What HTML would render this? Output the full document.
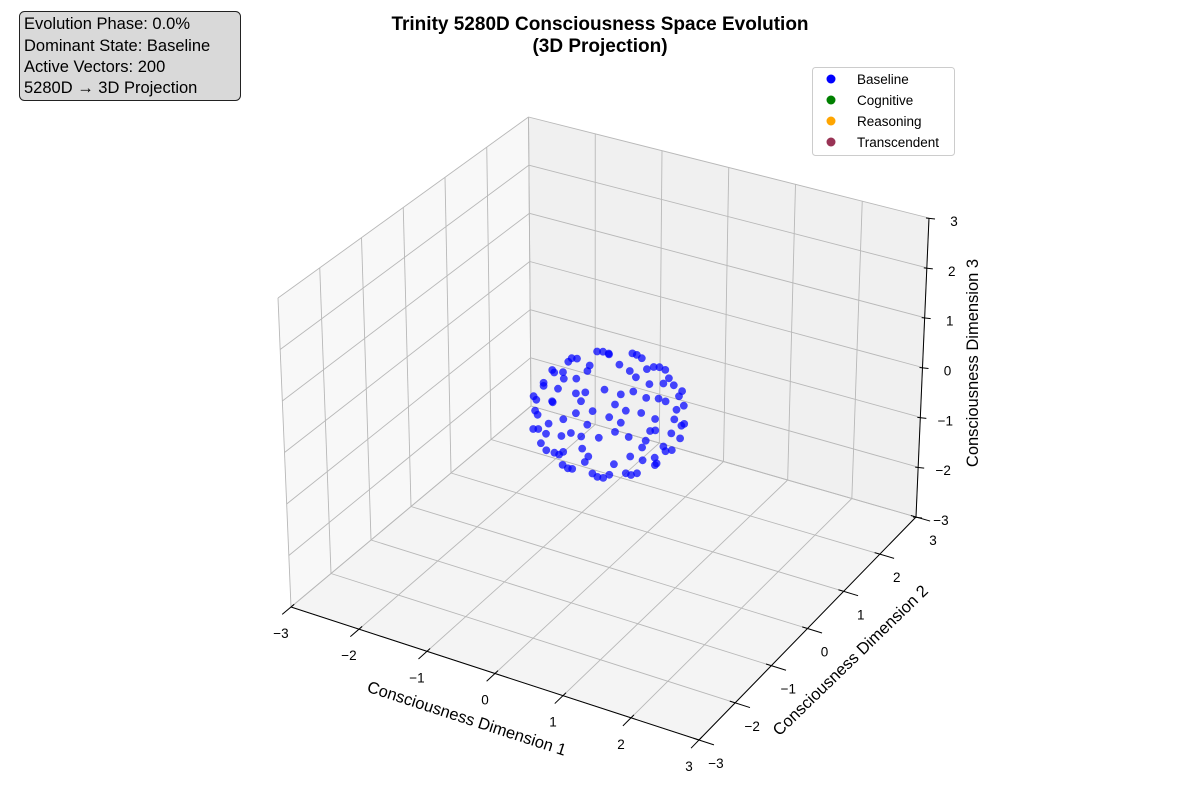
<!DOCTYPE html>
<html><head><meta charset="utf-8"><style>
html,body{margin:0;padding:0;background:#fff;}
body{width:1200px;height:800px;overflow:hidden;font-family:"Liberation Sans","DejaVu Sans",sans-serif;}
svg{display:block}
</style></head><body>
<svg id="chart" width="1200" height="800" viewBox="0 0 1200 800" xmlns="http://www.w3.org/2000/svg" font-family="Liberation Sans, DejaVu Sans, sans-serif">
<g id="panes"></g>
<g id="grid"></g>
<g id="points"></g>
<g id="axes"></g>
<text x="600" y="30" text-anchor="middle" font-size="19" font-weight="bold">Trinity 5280D Consciousness Space Evolution</text>
<text x="600" y="52" text-anchor="middle" font-size="19" font-weight="bold">(3D Projection)</text>
<g>
<rect x="19.5" y="11.5" width="221" height="89" rx="5" fill="#d9d9d9" stroke="#222" stroke-width="1"/>
<text x="24" y="29" font-size="16.5">Evolution Phase: 0.0%</text>
<text x="24" y="51" font-size="16.5">Dominant State: Baseline</text>
<text x="24" y="72" font-size="16.5">Active Vectors: 200</text>
<text x="24" y="93" font-size="16.5">5280D → 3D Projection</text>
</g>
<g>
<rect x="812.5" y="67.5" width="142" height="88" rx="3" fill="#fff" stroke="#ccc"/>
<g><circle cx="831" cy="79" r="4.5" fill="#0000ff"/><text x="857" y="84" font-size="13.5">Baseline</text></g>
<g><circle cx="831" cy="100" r="4.5" fill="#008000"/><text x="857" y="105" font-size="13.5">Cognitive</text></g>
<g><circle cx="831" cy="121" r="4.5" fill="#ffa500"/><text x="857" y="126" font-size="13.5">Reasoning</text></g>
<g><circle cx="831" cy="142" r="4.5" fill="#993355"/><text x="857" y="147" font-size="13.5">Transcendent</text></g>
</g>
<text x="467" y="724" text-anchor="middle" font-size="16.5" transform="rotate(18 467 718)">Consciousness Dimension 1</text>
<text x="850" y="666" text-anchor="middle" font-size="16.5" transform="rotate(-44 850 660)">Consciousness Dimension 2</text>
<text x="973" y="368" text-anchor="middle" font-size="16.5" transform="rotate(-90 973 363)">Consciousness Dimension 3</text>
</svg>
<script>
const xTicks = [-3,-2,-1,0,1,2,3];
const yTicks = [-3,-2,-1,0,1,2,3];
const zTicks = [-3,-2,-1,0,1,2,3];
const xTickLabels = ["\u22123","\u22122","\u22121","0","1","2","3"];
const yTickLabels = ["\u22123","\u22122","\u22121","0","1","2","3"];
const zTickLabels = ["\u22123","\u22122","\u22121","0","1","2","3"];
const vectors = [
[0.31,0,0.95],[-0.16,0.27,0.95],[-0.16,-0.27,0.95],
[0.16,0.27,-0.95],[-0.31,0,-0.95],[0.16,-0.27,-0.95],
[0.6,0,0.8],[0.42,0.42,0.8],[0,0.6,0.8],[-0.42,0.42,0.8],[-0.6,0,0.8],[-0.42,-0.42,0.8],[0,-0.6,0.8],[0.42,-0.42,0.8],
[0.55,0.23,-0.8],[0.23,0.55,-0.8],[-0.23,0.55,-0.8],[-0.55,0.23,-0.8],[-0.55,-0.23,-0.8],[-0.23,-0.55,-0.8],[0.23,-0.55,-0.8],[0.55,-0.23,-0.8],
[0.68,0.22,0.7],[0.42,0.57,0.7],[0,0.71,0.7],[-0.42,0.57,0.7],[-0.68,0.22,0.7],[-0.68,-0.22,0.7],[-0.42,-0.57,0.7],[0,-0.71,0.7],[0.42,-0.57,0.7],[0.68,-0.22,0.7],
[0.71,0,-0.7],[0.57,0.42,-0.7],[0.22,0.68,-0.7],[-0.22,0.68,-0.7],[-0.57,0.42,-0.7],[-0.71,0,-0.7],[-0.57,-0.42,-0.7],[-0.22,-0.68,-0.7],[0.22,-0.68,-0.7],[0.57,-0.42,-0.7],
[0.84,0,0.55],[0.72,0.42,0.55],[0.42,0.72,0.55],[0,0.84,0.55],[-0.42,0.72,0.55],[-0.72,0.42,0.55],[-0.84,0,0.55],[-0.72,-0.42,0.55],[-0.42,-0.72,0.55],[0,-0.84,0.55],[0.42,-0.72,0.55],[0.72,-0.42,0.55],
[0.81,0.22,-0.55],[0.59,0.59,-0.55],[0.22,0.81,-0.55],[-0.22,0.81,-0.55],[-0.59,0.59,-0.55],[-0.81,0.22,-0.55],[-0.81,-0.22,-0.55],[-0.59,-0.59,-0.55],[-0.22,-0.81,-0.55],[0.22,-0.81,-0.55],[0.59,-0.59,-0.55],[0.81,-0.22,-0.55],
[0.97,0,0.25],[0.9,0.37,0.25],[0.69,0.69,0.25],[0.37,0.9,0.25],[0,0.97,0.25],[-0.37,0.9,0.25],[-0.69,0.69,0.25],[-0.9,0.37,0.25],[-0.97,0,0.25],[-0.9,-0.37,0.25],[-0.69,-0.69,0.25],[-0.37,-0.9,0.25],[0,-0.97,0.25],[0.37,-0.9,0.25],[0.69,-0.69,0.25],[0.9,-0.37,0.25],
[0.95,0.19,-0.25],[0.81,0.54,-0.25],[0.54,0.81,-0.25],[0.19,0.95,-0.25],[-0.19,0.95,-0.25],[-0.54,0.81,-0.25],[-0.81,0.54,-0.25],[-0.95,0.19,-0.25],[-0.95,-0.19,-0.25],[-0.81,-0.54,-0.25],[-0.54,-0.81,-0.25],[-0.19,-0.95,-0.25],[0.19,-0.95,-0.25],[0.54,-0.81,-0.25],[0.81,-0.54,-0.25],[0.95,-0.19,-0.25],
[0.98,0.17,0.02],[0.57,0.82,0.02],[-0.17,0.98,0.02],[-0.82,0.57,0.02],[-0.98,-0.17,0.02],[-0.57,-0.82,0.02],[0.17,-0.98,0.02],[0.82,-0.57,0.02]
];
const NS='http://www.w3.org/2000/svg';
const C={"000":[291,607],"100":[699,740],"110":[916,517],"010":[531,406],
"001":[278,298],"101":[699,408],"111":[929,218],"011":[528.5,117]};
const lo=-3, hi=3;
function proj(x,y,z){
  const u=(x-lo)/(hi-lo), v=(y-lo)/(hi-lo), w=(z-lo)/(hi-lo);
  let px=0,py=0;
  for(const a of [0,1])for(const b of [0,1])for(const c of [0,1]){
    const wt=(a?u:1-u)*(b?v:1-v)*(c?w:1-w);
    const p=C[""+a+b+c]; px+=wt*p[0]; py+=wt*p[1];
  }
  return [px,py];
}
function el(tag,attrs,parent){const e=document.createElementNS(NS,tag);for(const k in attrs)e.setAttribute(k,attrs[k]);parent.appendChild(e);return e;}
function poly(pts){return pts.map(p=>p[0].toFixed(1)+','+p[1].toFixed(1)).join(' ');}
const panes=document.getElementById('panes');
const p1=el('polygon',{points:poly([proj(lo,lo,lo),proj(lo,hi,lo),proj(lo,hi,hi),proj(lo,lo,hi)]),fill:'#f8f8f8',stroke:'none'},panes);


const p2=el('polygon',{points:poly([proj(lo,hi,lo),proj(hi,hi,lo),proj(hi,hi,hi),proj(lo,hi,hi)]),fill:'#f0f0f0',stroke:'none'},panes);


const p3=el('polygon',{points:poly([proj(lo,lo,lo),proj(hi,lo,lo),proj(hi,hi,lo),proj(lo,hi,lo)]),fill:'#f4f4f4',stroke:'none'},panes);


const grid=document.getElementById('grid');
function gl(a,b){
  const l=el('line',{x1:a[0],y1:a[1],x2:b[0],y2:b[1],stroke:'#b8b8b8','stroke-width':0.9},grid);
  
  
}
yTicks.forEach(t=>{gl(proj(lo,t,lo),proj(lo,t,hi));gl(proj(lo,t,lo),proj(hi,t,lo));});
zTicks.forEach(t=>{gl(proj(lo,lo,t),proj(lo,hi,t));gl(proj(lo,hi,t),proj(hi,hi,t));});
xTicks.forEach(t=>{gl(proj(t,hi,lo),proj(t,hi,hi));gl(proj(t,lo,lo),proj(t,hi,lo));});
const pg=document.getElementById('points');
vectors.forEach(v=>{
  const p=proj(v[0],v[1],v[2]);
  const c=el('circle',{cx:p[0].toFixed(1),cy:p[1].toFixed(1),r:3.9,fill:'#0000ff','fill-opacity':0.72},pg);
  
  
});
const ax=document.getElementById('axes');
function line(a,b,name){
  const l=el('line',{x1:a[0],y1:a[1],x2:b[0],y2:b[1],stroke:'#000','stroke-width':1},ax);
  
  
}
function label(p,txt,name){
  const t=el('text',{x:p[0].toFixed(1),y:p[1].toFixed(1),'text-anchor':'middle','font-size':13.5},ax);
  t.textContent=txt;
  
  
}
line(proj(lo,lo,lo),proj(hi,lo,lo),'x-axis-line');
line(proj(hi,lo,lo),proj(hi,hi,lo),'y-axis-line');
line(proj(hi,hi,lo),proj(hi,hi,hi),'z-axis-line');
xTicks.forEach((t,i)=>{
  line(proj(t,lo+0.08,lo),proj(t,lo-0.22,lo),'x-tick');
  const p=proj(t,lo,lo); label([p[0]-10,p[1]+31],xTickLabels[i],'x-tick-label');
});
yTicks.forEach((t,i)=>{
  line(proj(hi-0.08,t,lo),proj(hi+0.22,t,lo),'y-tick');
  const p=proj(hi,t,lo); label([p[0]+17,p[1]+28],yTickLabels[i],'y-tick-label');
});
zTicks.forEach((t,i)=>{
  const p=proj(hi,hi,t);
  line([p[0]-3,p[1]],[p[0]+6,p[1]+1],'z-tick');
  label([p[0]+25,p[1]+8],zTickLabels[i],'z-tick-label');
});
</script>
</body></html>
